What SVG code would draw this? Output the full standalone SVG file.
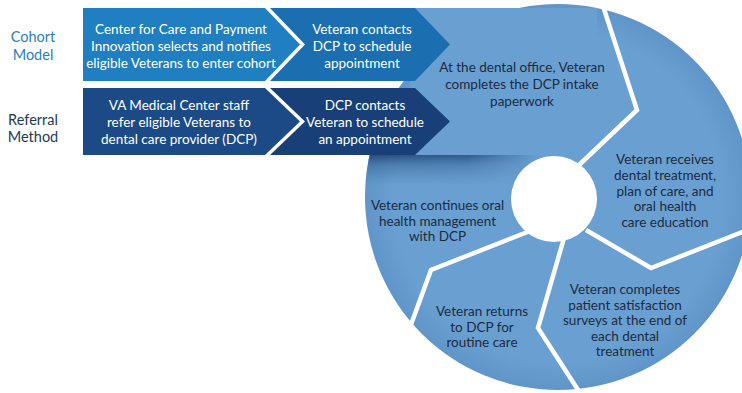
<svg xmlns="http://www.w3.org/2000/svg" width="742" height="393" viewBox="0 0 742 393">
  <style>
    .lbl { font-family: Lato, "Liberation Sans", Arial, sans-serif; font-size: 13.5px; text-anchor: middle; }
    .side { font-size: 14.5px; }
    .on-dark { fill: #ffffff; }
    .on-light { fill: #1c2b40; }
    .sep { fill: none; stroke: #ffffff; stroke-width: 4.5; stroke-linejoin: miter; }
  </style>
  <defs>
    <clipPath id="ringClip">
      <circle cx="558" cy="197" r="193"/>
    </clipPath>
    <linearGradient id="fold" x1="0" y1="0" x2="0" y2="1">
      <stop offset="0" stop-color="#1d3f6e" stop-opacity="0.85"/>
      <stop offset="0.35" stop-color="#2a5688" stop-opacity="0.45"/>
      <stop offset="1" stop-color="#3a6a9e" stop-opacity="0"/>
    </linearGradient>
    <linearGradient id="foldFade" x1="0" y1="0" x2="1" y2="0">
      <stop offset="0" stop-color="#fff" stop-opacity="1"/>
      <stop offset="0.6" stop-color="#fff" stop-opacity="0.85"/>
      <stop offset="1" stop-color="#fff" stop-opacity="0"/>
    </linearGradient>
    <mask id="foldMask">
      <rect x="360" y="155" width="180" height="30" fill="url(#foldFade)"/>
    </mask>
    <radialGradient id="ringShade" cx="558" cy="197" r="193" gradientUnits="userSpaceOnUse">
      <stop offset="0.85" stop-color="#6a9fd1"/>
      <stop offset="1" stop-color="#5f95c8"/>
    </radialGradient>
  </defs>

  <rect width="742" height="393" fill="#ffffff"/>

  <!-- row labels -->
  <g id="label-cohort">
    <text class="lbl side" x="33" y="42" fill="#2a80c2">Cohort</text>
    <text class="lbl side" x="33" y="60" fill="#2a80c2">Model</text>
  </g>
  <g id="label-referral">
    <text class="lbl side" x="33" y="125" fill="#22395c">Referral</text>
    <text class="lbl side" x="33" y="142" fill="#22395c">Method</text>
  </g>

  <!-- cycle of care: band into the ring -->
  <g id="cycle-base">
    <circle cx="558" cy="197" r="193" fill="url(#ringShade)"/>
    <rect x="410" y="8" width="187" height="147" fill="#6a9fd1"/>
    <g clip-path="url(#ringClip)">
      <rect x="360" y="155" width="180" height="30" fill="url(#fold)" mask="url(#foldMask)"/>
    </g>
    <circle cx="554" cy="199" r="43" fill="#ffffff"/>
  </g>

  <!-- segment dividers -->
  <g id="connectors">
    <polyline class="sep" points="603,6 637,110 578,166"/>
    <polyline class="sep" points="586,230 651,268 750,229"/>
    <polyline class="sep" points="564,238 538,328 582,396"/>
    <polyline class="sep" points="530,231 431,270 409,330"/>
  </g>

  <g id="step-intake">
    <text class="lbl on-light" x="522" y="72">At the dental office, Veteran</text>
    <text class="lbl on-light" x="522" y="89">completes the DCP intake</text>
    <text class="lbl on-light" x="522" y="106">paperwork</text>
  </g>
  <g id="step-treatment">
    <text class="lbl on-light" x="665" y="164">Veteran receives</text>
    <text class="lbl on-light" x="665" y="180">dental treatment,</text>
    <text class="lbl on-light" x="665" y="196">plan of care, and</text>
    <text class="lbl on-light" x="665" y="211">oral health</text>
    <text class="lbl on-light" x="665" y="226.5">care education</text>
  </g>
  <g id="step-surveys">
    <text class="lbl on-light" x="625" y="294">Veteran completes</text>
    <text class="lbl on-light" x="625" y="309.5">patient satisfaction</text>
    <text class="lbl on-light" x="625" y="325">surveys at the end of</text>
    <text class="lbl on-light" x="625" y="340.5">each dental</text>
    <text class="lbl on-light" x="625" y="356">treatment</text>
  </g>
  <g id="step-returns">
    <text class="lbl on-light" x="482" y="316">Veteran returns</text>
    <text class="lbl on-light" x="482" y="331.5">to DCP for</text>
    <text class="lbl on-light" x="482" y="347">routine care</text>
  </g>
  <g id="step-continues">
    <text class="lbl on-light" x="437.5" y="210">Veteran continues oral</text>
    <text class="lbl on-light" x="437.5" y="225.5">health management</text>
    <text class="lbl on-light" x="437.5" y="241">with DCP</text>
  </g>

  <!-- cohort row -->
  <g id="cohort-select">
    <polygon points="83,8 265,8 300,44.5 265,81 83,81" fill="#1f7fc1"/>
    <text class="lbl on-dark" x="181" y="33.5">Center for Care and Payment</text>
    <text class="lbl on-dark" x="181" y="50.7">Innovation selects and notifies</text>
    <text class="lbl on-dark" x="181" y="67.8">eligible Veterans to enter cohort</text>
  </g>
  <g id="cohort-contact">
    <polygon points="270,8 415,8 450,44.5 415,81 270,81 305,44.5" fill="#1b6eb0"/>
    <text class="lbl on-dark" x="362" y="33.5">Veteran contacts</text>
    <text class="lbl on-dark" x="362" y="50.7">DCP to schedule</text>
    <text class="lbl on-dark" x="362" y="67.8">appointment</text>
  </g>

  <!-- referral row -->
  <g id="referral-refer">
    <polygon points="83,88 265,88 300,121.5 265,155 83,155" fill="#1c4a86"/>
    <text class="lbl on-dark" x="179" y="109.5">VA Medical Center staff</text>
    <text class="lbl on-dark" x="179" y="126.5">refer eligible Veterans to</text>
    <text class="lbl on-dark" x="179" y="143.5">dental care provider (DCP)</text>
  </g>
  <g id="referral-contact">
    <polygon points="270,88 415,88 450,121.5 415,155 270,155 305,121.5" fill="#183f77"/>
    <text class="lbl on-dark" x="365" y="109.5">DCP contacts</text>
    <text class="lbl on-dark" x="365" y="126.5">Veteran to schedule</text>
    <text class="lbl on-dark" x="365" y="143.5">an appointment</text>
  </g>
</svg>
